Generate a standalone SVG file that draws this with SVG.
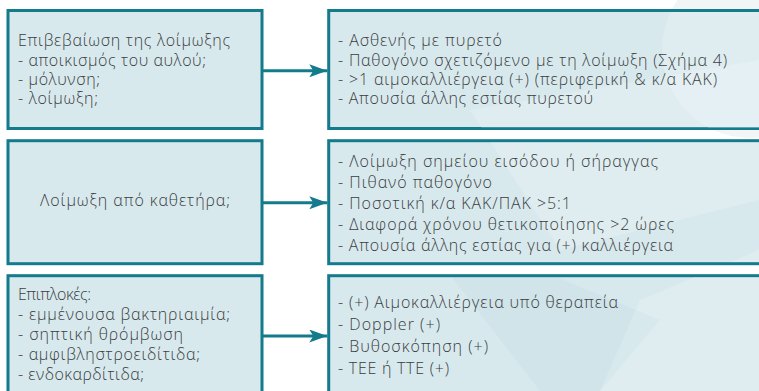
<svg xmlns="http://www.w3.org/2000/svg" width="759" height="391" viewBox="0 0 759 391">
  <style>
    .box { fill: #d8e9ee; stroke: #137b8b; stroke-width: 3; }
    .txt { font-family: "Open Sans", "Noto Sans", "DejaVu Sans", sans-serif; font-size: 16px; font-weight: 300; fill: #3a3d40; }
    .link { stroke: #137b8b; stroke-width: 3; fill: none; }
    .mark { fill: #ffffff; opacity: 0.18; }
    .shade { fill: #9cc3cf; opacity: 0.12; }
  </style>
  <defs>
    <marker id="head" markerUnits="userSpaceOnUse" markerWidth="20" markerHeight="14" viewBox="0 0 20 14" refX="18" refY="6.5" orient="auto">
      <path d="M0,0 L18,6.5 L0,13 L4,6.5 Z" fill="#137b8b"/>
    </marker>
    <clipPath id="rightArea">
      <rect x="330" y="12" width="440" height="116"/>
      <rect x="330" y="142" width="440" height="120"/>
      <rect x="330" y="277" width="440" height="120"/>
    </clipPath>
  </defs>

  <rect width="759" height="391" fill="#ffffff"/>
  <!-- faint circle in the top-right corner -->
  <circle cx="750" cy="50" r="88" fill="#e3ebee" opacity="0.5"/>

  <!-- left column -->
  <g id="n-confirm">
    <rect class="box" x="8" y="10.5" width="254" height="118"/>
    <text class="txt" x="18" y="46" textLength="212">Επιβεβαίωση της λοίμωξης</text>
    <text class="txt" x="18" y="65.5" textLength="188">- αποικισμός του αυλού;</text>
    <text class="txt" x="18" y="85" textLength="82">- μόλυνση;</text>
    <text class="txt" x="18" y="104" textLength="80">- λοίμωξη;</text>
  </g>
  <g id="n-catheter">
    <rect class="box" x="8" y="140.7" width="254" height="123"/>
    <text class="txt" x="135" y="206" text-anchor="middle" textLength="190">Λοίμωξη από καθετήρα;</text>
  </g>
  <g id="n-complications">
    <rect class="box" x="8" y="275.7" width="254" height="130"/>
    <text class="txt" x="18" y="300" textLength="73">Επιπλοκές:</text>
    <text class="txt" x="18" y="320" textLength="212">- εμμένουσα βακτηριαιμία;</text>
    <text class="txt" x="18" y="340" textLength="165">- σηπτική θρόμβωση</text>
    <text class="txt" x="18" y="360" textLength="182">- αμφιβληστροειδίτιδα;</text>
    <text class="txt" x="18" y="380" textLength="126">- ενδοκαρδίτιδα;</text>
  </g>

  <!-- right column -->
  <g id="n-criteria">
    <rect class="box" x="328.7" y="10.5" width="450" height="118"/>
  </g>
  <g id="n-catheter-criteria">
    <rect class="box" x="328.7" y="140.7" width="450" height="123"/>
  </g>
  <g id="n-complication-tests">
    <rect class="box" x="328.7" y="275.7" width="450" height="130"/>
  </g>

  <!-- faint background shapes across the right column -->
  <g clip-path="url(#rightArea)">
    <circle class="mark" cx="750" cy="50" r="88"/>
    <polygon class="mark" points="470,110 759,60 759,200 560,250"/>
    <polygon class="shade" points="440,262 520,262 660,320 600,391 540,391"/>
    <polygon class="mark" points="640,300 759,250 759,391 600,391"/>
  </g>

  <g id="n-criteria-text">
    <text class="txt" x="338" y="46" textLength="164">- Ασθενής με πυρετό</text>
    <text class="txt" x="338" y="65.5" textLength="389">- Παθογόνο σχετιζόμενο με τη λοίμωξη (Σχήμα 4)</text>
    <text class="txt" x="338" y="85" textLength="379">- &gt;1 αιμοκαλλιέργεια (+) (περιφερική &amp; κ/α ΚΑΚ)</text>
    <text class="txt" x="338" y="104" textLength="255">- Απουσία άλλης εστίας πυρετού</text>
  </g>
  <g id="n-catheter-criteria-text">
    <text class="txt" x="338" y="166.5" textLength="320">- Λοίμωξη σημείου εισόδου ή σήραγγας</text>
    <text class="txt" x="338" y="187.5" textLength="154">- Πιθανό παθογόνο</text>
    <text class="txt" x="338" y="208.5" textLength="233">- Ποσοτική κ/α ΚΑΚ/ΠΑΚ &gt;5:1</text>
    <text class="txt" x="338" y="229.5" textLength="336">- Διαφορά χρόνου θετικοποίησης &gt;2 ώρες</text>
    <text class="txt" x="338" y="250.5" textLength="335">- Απουσία άλλης εστίας για (+) καλλιέργεια</text>
  </g>
  <g id="n-complication-tests-text">
    <text class="txt" x="338" y="308" textLength="280">- (+) Αιμοκαλλιέργεια υπό θεραπεία</text>
    <text class="txt" x="338" y="330" textLength="102">- Doppler (+)</text>
    <text class="txt" x="338" y="352" textLength="150">- Βυθοσκόπηση (+)</text>
    <text class="txt" x="338" y="374" textLength="111">- ΤΕΕ ή ΤΤΕ (+)</text>
  </g>

  <!-- connectors -->
  <g id="connectors">
    <line class="link" x1="262" y1="70.7" x2="327.3" y2="70.7" marker-end="url(#head)"/>
    <line class="link" x1="262" y1="202.7" x2="327.3" y2="202.7" marker-end="url(#head)"/>
    <line class="link" x1="262" y1="336" x2="327.3" y2="336" marker-end="url(#head)"/>
  </g>
</svg>
